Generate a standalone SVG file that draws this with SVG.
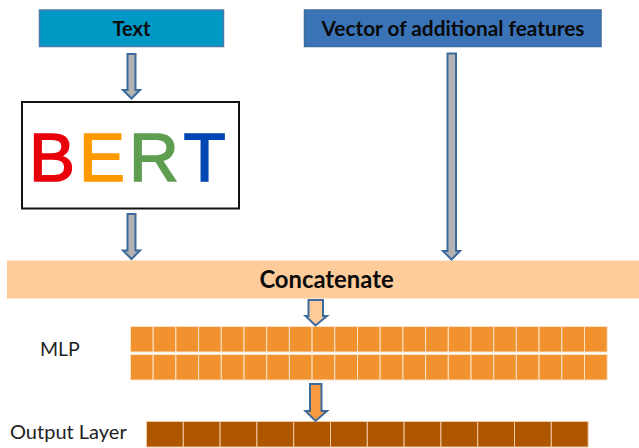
<svg xmlns="http://www.w3.org/2000/svg" width="639" height="448" viewBox="0 0 639 448">
<style>
.lb{font-family:"Lato","Open Sans","Liberation Sans",sans-serif;fill:#0a0a0a}
.b{font-weight:700;text-anchor:middle}
.r{font-weight:400;fill:#222}
.bl{font-family:"Liberation Sans",Arial,sans-serif;font-size:69px;stroke-width:1.6}
.ar{stroke:#3d6a9c;stroke-width:2;stroke-linejoin:miter}
.m{fill:#f2922f;stroke:#fbe3c8;stroke-width:1}
.o{fill:#ae5500;stroke:#f0c9a0;stroke-width:1}
</style>
<rect width="639" height="448" fill="#fff"/>
<g id="node-text">
<rect x="39.5" y="10" width="184" height="36.5" fill="#0099c6" stroke="#4a7ba8" stroke-width="1.5"/>
<text class="lb b" x="131.5" y="36" font-size="20">Text</text>
</g>
<g id="node-vector">
<rect x="304.5" y="10" width="296.5" height="36.5" fill="#3a73b6" stroke="#3f6c9e" stroke-width="1.5"/>
<text class="lb b" x="453" y="36" font-size="20.8">Vector of additional features</text>
</g>
<g id="node-bert">
<rect x="22" y="102" width="217" height="106.5" fill="#fff" stroke="#111" stroke-width="2"/>
<text class="bl" x="29" y="180.5" fill="#e8000b" stroke="#e8000b">B</text>
<text class="bl" x="79" y="180.5" fill="#ff9900" stroke="#ff9900">E</text>
<text class="bl" x="129" y="180.5" fill="#5f9e50" stroke="#5f9e50">R</text>
<text class="bl" x="183.5" y="180.5" fill="#0047b3" stroke="#0047b3">T</text>
</g>
<g id="node-concat">
<rect x="7" y="260.5" width="632" height="38" fill="#fecb9a"/>
<text class="lb b" x="326.5" y="288" font-size="23.8">Concatenate</text>
</g>
<g id="node-mlp">
<text class="lb r" x="40" y="356" font-size="19.5">MLP</text>
<g id="mlp-cells"><rect class="m" x="130.5" y="326.5" width="22.7" height="25.5"/><rect class="m" x="153.2" y="326.5" width="22.7" height="25.5"/><rect class="m" x="175.9" y="326.5" width="22.7" height="25.5"/><rect class="m" x="198.6" y="326.5" width="22.7" height="25.5"/><rect class="m" x="221.3" y="326.5" width="22.7" height="25.5"/><rect class="m" x="244" y="326.5" width="22.7" height="25.5"/><rect class="m" x="266.7" y="326.5" width="22.7" height="25.5"/><rect class="m" x="289.4" y="326.5" width="22.7" height="25.5"/><rect class="m" x="312.1" y="326.5" width="22.7" height="25.5"/><rect class="m" x="334.8" y="326.5" width="22.7" height="25.5"/><rect class="m" x="357.5" y="326.5" width="22.7" height="25.5"/><rect class="m" x="380.2" y="326.5" width="22.7" height="25.5"/><rect class="m" x="402.9" y="326.5" width="22.7" height="25.5"/><rect class="m" x="425.6" y="326.5" width="22.7" height="25.5"/><rect class="m" x="448.3" y="326.5" width="22.7" height="25.5"/><rect class="m" x="471" y="326.5" width="22.7" height="25.5"/><rect class="m" x="493.7" y="326.5" width="22.7" height="25.5"/><rect class="m" x="516.4" y="326.5" width="22.7" height="25.5"/><rect class="m" x="539.1" y="326.5" width="22.7" height="25.5"/><rect class="m" x="561.8" y="326.5" width="22.7" height="25.5"/><rect class="m" x="584.5" y="326.5" width="22.7" height="25.5"/>
<rect class="m" x="130.5" y="354.5" width="22.7" height="25.5"/><rect class="m" x="153.2" y="354.5" width="22.7" height="25.5"/><rect class="m" x="175.9" y="354.5" width="22.7" height="25.5"/><rect class="m" x="198.6" y="354.5" width="22.7" height="25.5"/><rect class="m" x="221.3" y="354.5" width="22.7" height="25.5"/><rect class="m" x="244" y="354.5" width="22.7" height="25.5"/><rect class="m" x="266.7" y="354.5" width="22.7" height="25.5"/><rect class="m" x="289.4" y="354.5" width="22.7" height="25.5"/><rect class="m" x="312.1" y="354.5" width="22.7" height="25.5"/><rect class="m" x="334.8" y="354.5" width="22.7" height="25.5"/><rect class="m" x="357.5" y="354.5" width="22.7" height="25.5"/><rect class="m" x="380.2" y="354.5" width="22.7" height="25.5"/><rect class="m" x="402.9" y="354.5" width="22.7" height="25.5"/><rect class="m" x="425.6" y="354.5" width="22.7" height="25.5"/><rect class="m" x="448.3" y="354.5" width="22.7" height="25.5"/><rect class="m" x="471" y="354.5" width="22.7" height="25.5"/><rect class="m" x="493.7" y="354.5" width="22.7" height="25.5"/><rect class="m" x="516.4" y="354.5" width="22.7" height="25.5"/><rect class="m" x="539.1" y="354.5" width="22.7" height="25.5"/><rect class="m" x="561.8" y="354.5" width="22.7" height="25.5"/><rect class="m" x="584.5" y="354.5" width="22.7" height="25.5"/></g>
</g>
<g id="node-output">
<text class="lb r" x="10" y="439" font-size="20">Output Layer</text>
<g id="output-cells"><rect class="o" x="146.5" y="421.5" width="36.8" height="25.5"/><rect class="o" x="183.3" y="421.5" width="36.8" height="25.5"/><rect class="o" x="220.1" y="421.5" width="36.8" height="25.5"/><rect class="o" x="256.9" y="421.5" width="36.8" height="25.5"/><rect class="o" x="293.7" y="421.5" width="36.8" height="25.5"/><rect class="o" x="330.5" y="421.5" width="36.8" height="25.5"/><rect class="o" x="367.3" y="421.5" width="36.8" height="25.5"/><rect class="o" x="404.1" y="421.5" width="36.8" height="25.5"/><rect class="o" x="440.9" y="421.5" width="36.8" height="25.5"/><rect class="o" x="477.7" y="421.5" width="36.8" height="25.5"/><rect class="o" x="514.5" y="421.5" width="36.8" height="25.5"/><rect class="o" x="551.3" y="421.5" width="36.8" height="25.5"/></g>
</g>
<g id="connectors">
<path class="ar" fill="#b3b3b3" d="M127.5 54H135.5V90H140L131.5 98.5 123 90H127.5Z"/>
<path class="ar" fill="#b3b3b3" d="M127.5 214H135.5V250.5H140L131.5 259 123 250.5H127.5Z"/>
<path class="ar" fill="#b3b3b3" d="M447.5 53.5H456V251H460L451.5 259.5 443 251H447.5Z"/>
<path class="ar" fill="#fdcb9a" d="M308.5 300H323V316H327L315.5 325.5 305.5 316H308.5Z"/>
<path class="ar" fill="#f79a40" d="M310 384H321.5V411H327L315.5 421 305.5 411H310Z"/>
</g>
</svg>
